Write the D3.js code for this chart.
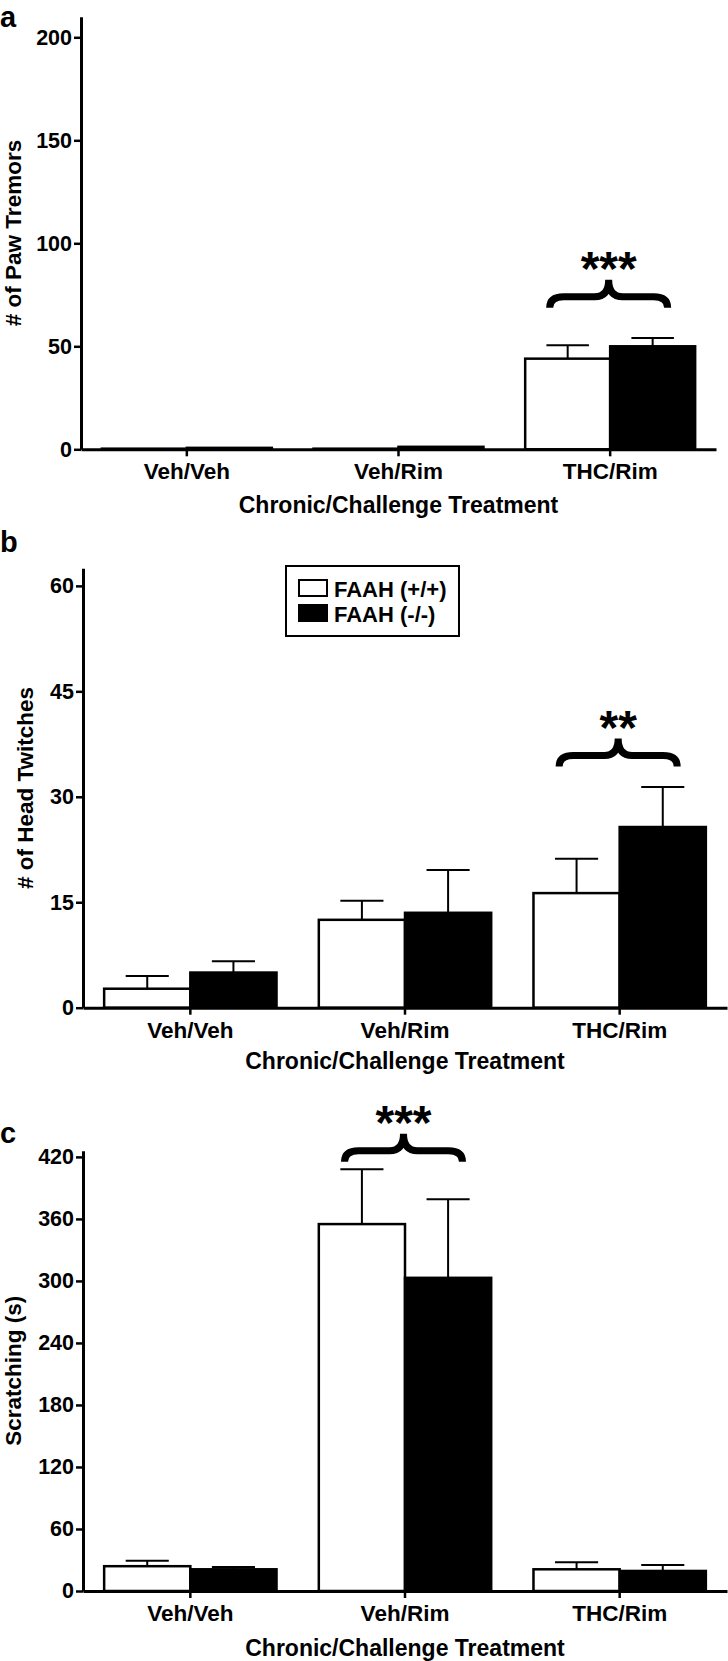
<!DOCTYPE html>
<html><head><meta charset="utf-8">
<script src="https://cdn.jsdelivr.net/npm/d3@7"></script>
<style>
body{margin:0;background:#fff;}
svg{display:block;}
text{font-family:"Liberation Sans",Arial,sans-serif;font-weight:bold;fill:#000;}
</style></head><body>
<svg id="chart" width="728" height="1661"></svg>
<script>
const categories = ["Veh/Veh","Veh/Rim","THC/Rim"];
const groups = ["FAAH (+/+)","FAAH (-/-)"];
// Panel a: paw tremors
const pawWT = [0.3, 0.3, 44];
const pawWTErr = [0, 0, 6.5];
const pawKO = [0.7, 1.2, 50];
const pawKOErr = [0, 0, 4];
const pawTicks = [0, 50, 100, 150, 200];
// Panel b: head twitches
const headWT = [2.7, 12.5, 16.3];
const headWTErr = [1.8, 2.7, 4.9];
const headKO = [5.0, 13.5, 25.7];
const headKOErr = [1.6, 6.1, 5.7];
const headTicks = [0, 15, 30, 45, 60];
// Panel c: scratching
const scratchWT = [24, 355, 21];
const scratchWTErr = [5.2, 53, 6.8];
const scratchKO = [21, 303, 19.4];
const scratchKOErr = [2.2, 76, 5.8];
const scratchTicks = [0, 60, 120, 180, 240, 300, 360, 420];

const yTitles = ["# of Paw Tremors", "# of Head Twitches", "Scratching (s)"];
const xTitle = "Chronic/Challenge Treatment";
const panelLetters = ["a", "b", "c"];
const sigCategory = ["THC/Rim", "THC/Rim", "Veh/Rim"];
const sigLabel = ["***", "**", "***"];
const sigLevel = [68.7, 34.3, 415.4];

const panels = [
  {wt: pawWT, wtErr: pawWTErr, ko: pawKO, koErr: pawKOErr, ticks: pawTicks, yMax: 210},
  {wt: headWT, wtErr: headWTErr, ko: headKO, koErr: headKOErr, ticks: headTicks, yMax: 62.5},
  {wt: scratchWT, wtErr: scratchWTErr, ko: scratchKO, koErr: scratchKOErr, ticks: scratchTicks, yMax: 426}
];
// layout (pixels)
const layout = [
  {x0: 81, x1: 716, yBottom: 449.3, yTop: 16.7, titleX: 21, letterY: 26.5, xTitleDy: 64},
  {x0: 83, x1: 727, yBottom: 1007.7, yTop: 568.3, titleX: 33, letterY: 552, xTitleDy: 61},
  {x0: 83, x1: 727, yBottom: 1591, yTop: 1150.7, titleX: 21, letterY: 1143, xTitleDy: 65}
];
const fills = {"FAAH (+/+)": "#ffffff", "FAAH (-/-)": "#000000"};

const svg = d3.select("#chart");
svg.append("rect").attr("width", 728).attr("height", 1661).attr("fill", "#fff");

panels.forEach((P, pi) => {
  const L = layout[pi];
  const g = svg.append("g");
  const x = d3.scaleBand().domain(categories).range([L.x0, L.x1]).paddingInner(0.197).paddingOuter(0.0985);
  const xs = d3.scaleBand().domain(groups).range([0, x.bandwidth()]);
  const y = d3.scaleLinear().domain([0, P.yMax]).range([L.yBottom, L.yTop]);

  const rows = [];
  categories.forEach((c, i) => {
    rows.push({c, g: groups[0], v: P.wt[i], e: P.wtErr[i]});
    rows.push({c, g: groups[1], v: P.ko[i], e: P.koErr[i]});
  });

  // error bars (drawn behind bars)
  const eg = g.append("g").attr("stroke", "#000").attr("stroke-width", 2);
  rows.filter(r => r.e > 0).forEach(r => {
    const cx = x(r.c) + xs(r.g) + xs.bandwidth() / 2;
    const cw = xs.bandwidth() / 2;
    eg.append("line").attr("x1", cx).attr("x2", cx).attr("y1", y(r.v)).attr("y2", y(r.v + r.e));
    eg.append("line").attr("x1", cx - cw / 2).attr("x2", cx + cw / 2).attr("y1", y(r.v + r.e)).attr("y2", y(r.v + r.e));
  });

  g.append("g").selectAll("rect").data(rows).join("rect")
    .attr("x", d => x(d.c) + xs(d.g))
    .attr("y", d => y(d.v))
    .attr("width", xs.bandwidth())
    .attr("height", d => y(0) - y(d.v))
    .attr("fill", d => fills[d.g])
    .attr("stroke", "#000").attr("stroke-width", 2.5);

  // axes
  const ya = g.append("g").attr("transform", `translate(${L.x0},0)`)
    .call(d3.axisLeft(y).tickValues(P.ticks).tickSize(7).tickSizeOuter(0).tickPadding(2).tickFormat(d3.format("d")));
  ya.select(".domain").attr("stroke-width", 3);
  ya.selectAll(".tick line").attr("stroke-width", 2.5);
  ya.selectAll(".tick text").style("font-size", "21.5px").style("font-family", '"Liberation Sans",Arial,sans-serif').style("font-weight", "bold");

  const xa = g.append("g").attr("transform", `translate(0,${L.yBottom})`)
    .call(d3.axisBottom(x).tickSize(7).tickSizeOuter(0).tickPadding(7));
  xa.select(".domain").attr("stroke-width", 3);
  xa.selectAll(".tick line").attr("stroke-width", 2.5);
  xa.selectAll(".tick text").style("font-size", "22.5px").style("font-family", '"Liberation Sans",Arial,sans-serif').style("font-weight", "bold");

  // axis titles
  g.append("text").attr("x", (L.x0 + L.x1) / 2).attr("y", L.yBottom + L.xTitleDy)
    .attr("text-anchor", "middle").style("font-size", "23px").text(xTitle);
  g.append("text")
    .attr("transform", `translate(${L.titleX},${(L.yBottom + L.yTop) / 2}) rotate(-90)`)
    .attr("text-anchor", "middle").style("font-size", "22.5px").text(yTitles[pi]);

  // panel letter
  g.append("text").attr("x", 0).attr("y", L.letterY).style("font-size", "29px").text(panelLetters[pi]);

  // significance brace
  const cx = x(sigCategory[pi]) + x.bandwidth() / 2 - 1.5;
  const hw = 59;
  const yt = y(sigLevel[pi]);
  const ym = yt - 11, yp = yt - 28;
  const path = `M${cx - hw},${yt} Q${cx - hw},${ym} ${cx - hw + 14},${ym} L${cx - 14},${ym} Q${cx},${ym} ${cx},${yp} Q${cx},${ym} ${cx + 14},${ym} L${cx + hw - 14},${ym} Q${cx + hw},${ym} ${cx + hw},${yt}`;
  g.append("path").attr("d", path).attr("fill", "none").attr("stroke", "#000").attr("stroke-width", 7);
  g.append("text").attr("x", cx).attr("y", yp + 5).attr("text-anchor", "middle")
    .style("font-size", "48px").text(sigLabel[pi]);
});

// legend (panel b)
const lg = svg.append("g").attr("transform", "translate(286,566)");
lg.append("rect").attr("width", 173).attr("height", 70).attr("fill", "#fff").attr("stroke", "#000").attr("stroke-width", 2);
groups.forEach((name, i) => {
  lg.append("rect").attr("x", 13).attr("y", 14 + i * 25).attr("width", 28).attr("height", 16)
    .attr("fill", fills[name]).attr("stroke", "#000").attr("stroke-width", 2);
  lg.append("text").attr("x", 48).attr("y", 30.5 + i * 25).style("font-size", "22px").text(name);
});
</script>
</body></html>
